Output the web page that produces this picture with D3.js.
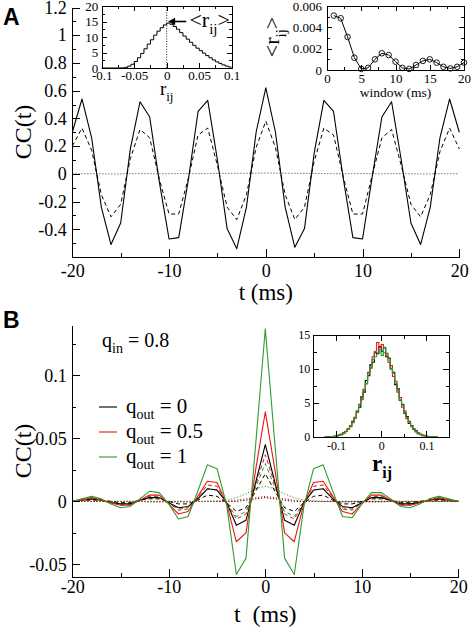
<!DOCTYPE html>
<html><head><meta charset="utf-8">
<script src="https://cdn.jsdelivr.net/npm/d3@7"></script>
<style>
body{margin:0;background:#fff;}
svg{display:block;}
.axis path,.axis line{stroke:#000;stroke-width:1;shape-rendering:crispEdges;}
</style></head><body>
<svg id="c" width="472" height="630"></svg>
<script>
// ---------------- DATA ----------------
const lags = [-20,-19,-18,-17,-16,-15,-14,-13,-12,-11,-10,-9,-8,-7,-6,-5,-4,-3,-2,-1,0,1,2,3,4,5,6,7,8,9,10,11,12,13,14,15,16,17,18,19,20];

// Panel A main
const ccA_solid = [0.30,0.54,0.26,-0.24,-0.51,-0.355,0.18,0.52,0.41,-0.06,-0.47,-0.46,-0.04,0.45,0.53,0.10,-0.395,-0.54,-0.24,0.30,0.62,0.30,-0.24,-0.53,-0.395,0.15,0.53,0.45,-0.03,-0.46,-0.47,-0.02,0.41,0.52,0.10,-0.355,-0.51,-0.24,0.26,0.54,0.30];
const ccA_dash  = [0.20,0.33,0.17,-0.15,-0.31,-0.22,0.11,0.32,0.26,-0.04,-0.29,-0.29,-0.03,0.28,0.33,0.06,-0.24,-0.33,-0.15,0.19,0.38,0.19,-0.15,-0.33,-0.24,0.09,0.33,0.28,-0.02,-0.29,-0.29,-0.01,0.26,0.32,0.06,-0.22,-0.31,-0.15,0.16,0.33,0.18];
const ccA_dot   = [0.001,0.000,0.001,0.000,-0.001,0.000,0.001,0.002,0.001,0.000,0.001,0.002,0.002,0.001,0.002,0.003,0.003,0.004,0.004,0.005,0.006,0.005,0.004,0.004,0.003,0.002,0.002,0.001,0.000,0.001,0.002,0.001,0.000,0.001,0.001,0.000,-0.001,0.000,0.001,0.000,0.001];

// Panel A inset 1: histogram of r_ij (bin starts, width 0.005)
const histA_bins = [-0.1,-0.095,-0.09,-0.085,-0.08,-0.075,-0.07,-0.065,-0.06,-0.055,-0.05,-0.045,-0.04,-0.035,-0.03,-0.025,-0.02,-0.015,-0.01,-0.005,0,0.005,0.01,0.015,0.02,0.025,0.03,0.035,0.04,0.045,0.05,0.055,0.06,0.065,0.07,0.075,0.08,0.085,0.09,0.095];
const histA_vals = [0,0,0,0,0,0,0.05,0.2,0.6,1.2,2.1,3.3,4.7,6.2,7.7,9.1,10.6,11.9,13.0,13.9,14.5,14.1,13.4,12.5,11.4,10.3,9.3,8.3,7.3,6.4,5.6,4.8,4.0,3.3,2.6,2.0,1.5,1.0,0.6,0.3];

// Panel A inset 2: <r_ij> vs window
const windows = [1,2,3,4,5,6,7,8,9,10,11,12,13,14,15,16,17,18,19,20];
const meanR   = [0.0051,0.00485,0.0031,0.00115,0.0001,0.0002,0.001,0.00157,0.0014,0.00078,0.0002,0.0001,0.00047,0.00085,0.001,0.00069,0.0003,0.00015,0.0003,0.0007];

// Panel B main
const ccB_k_solid = [0.000,0.001,0.002,0.001,-0.001,-0.002,-0.002,0.001,0.003,0.003,-0.001,-0.005,-0.004,0.002,0.010,0.009,-0.001,-0.019,-0.015,0.015,0.045,0.015,-0.015,-0.019,-0.001,0.009,0.010,0.002,-0.004,-0.005,-0.001,0.003,0.003,0.001,-0.002,-0.002,-0.001,0.001,0.002,0.001,0.000];
const ccB_r_solid = [0.000,0.001,0.003,0.001,-0.001,-0.003,-0.003,0.001,0.005,0.005,-0.002,-0.010,-0.008,0.004,0.016,0.015,-0.002,-0.032,-0.025,0.025,0.071,0.025,-0.025,-0.032,-0.002,0.015,0.016,0.004,-0.008,-0.010,-0.002,0.005,0.005,0.001,-0.003,-0.003,-0.001,0.001,0.003,0.001,0.000];
const ccB_g_solid = [0.000,0.002,0.004,0.002,-0.002,-0.005,-0.004,0.002,0.008,0.007,-0.002,-0.014,-0.012,0.008,0.029,0.026,-0.003,-0.058,-0.045,0.045,0.137,0.045,-0.045,-0.058,-0.004,0.026,0.029,0.008,-0.012,-0.013,-0.002,0.007,0.007,0.002,-0.004,-0.005,-0.002,0.002,0.004,0.002,0.000];
const ccB_k_dash  = [0.000,0.001,0.001,0.001,0.000,-0.001,-0.001,0.001,0.002,0.002,0.000,-0.002,-0.002,0.001,0.005,0.004,-0.001,-0.008,-0.005,0.008,0.022,0.008,-0.005,-0.008,-0.001,0.004,0.005,0.001,-0.002,-0.002,0.000,0.002,0.002,0.001,-0.001,-0.001,0.000,0.001,0.001,0.001,0.000];
const ccB_r_dash  = [0.000,0.001,0.002,0.001,-0.001,-0.003,-0.002,0.001,0.004,0.004,-0.001,-0.007,-0.006,0.003,0.013,0.012,-0.001,-0.014,-0.010,0.013,0.037,0.013,-0.010,-0.014,-0.001,0.012,0.013,0.003,-0.006,-0.007,-0.001,0.004,0.004,0.001,-0.002,-0.003,-0.001,0.001,0.002,0.001,0.000];
const ccB_g_dash  = [0.000,0.001,0.002,0.001,-0.001,-0.002,-0.002,0.001,0.004,0.003,-0.001,-0.006,-0.005,0.002,0.010,0.009,-0.001,-0.012,-0.008,0.011,0.030,0.011,-0.008,-0.012,-0.001,0.009,0.010,0.002,-0.005,-0.006,-0.001,0.003,0.004,0.001,-0.002,-0.002,-0.001,0.001,0.002,0.001,0.000];
const ccB_k_dot   = [0,0,0,0,0,0,0,0,0,0,0,0,0,0,0,0,0,0,0.001,0.002,0.003,0.002,0.001,0,0,0,0,0,0,0,0,0,0,0,0,0,0,0,0,0,0];
const ccB_r_dot   = [0,0,0,0,0,0,0,0,-0.0005,-0.0005,-0.0005,-0.0005,-0.0005,0,0,0,0,0.001,0.002,0.003,0.004,0.003,0.002,0.001,0,0,0,0,-0.0005,-0.0005,-0.0005,-0.0005,-0.0005,0,0,0,0,0,0,0,0];
const ccB_g_dot   = [0,0,0,0,0,0,0,0,0,0,0,0,0,0,0,0.0005,0.001,0.003,0.006,0.010,0.012,0.010,0.006,0.003,0.001,0.0005,0,0,0,0,0,0,0,0,0,0,0,0,0,0,0];

// Panel B inset: histograms (bin starts, width 0.005)
const histB_bins = [-0.125,-0.12,-0.115,-0.11,-0.105,-0.1,-0.095,-0.09,-0.085,-0.08,-0.075,-0.07,-0.065,-0.06,-0.055,-0.05,-0.045,-0.04,-0.035,-0.03,-0.025,-0.02,-0.015,-0.01,-0.005,0,0.005,0.01,0.015,0.02,0.025,0.03,0.035,0.04,0.045,0.05,0.055,0.06,0.065,0.07,0.075,0.08,0.085,0.09,0.095,0.1,0.105,0.11,0.115,0.12];
const histB_k = [0,0.02,0.03,0.08,0.12,0.15,0.3,0.35,0.6,0.8,1.2,1.5,2.3,2.8,3.8,4.4,5.9,6.6,8.3,9.0,10.6,11.0,12.4,12.3,13.3,12.6,13.1,11.8,11.6,10.0,9.5,7.7,7.1,5.4,4.8,3.5,3.0,2.0,1.7,1.1,0.9,0.5,0.4,0.2,0.2,0.08,0.07,0.03,0.02,0];
const histB_r = [0,0.01,0.05,0.05,0.1,0.2,0.22,0.42,0.55,0.85,1.1,1.7,2.1,2.9,3.6,4.8,5.5,7.0,7.8,9.5,10.1,11.8,12.6,13.9,13.2,13.6,12.4,12.3,11.0,10.5,8.9,8.2,6.6,5.8,4.4,3.8,2.7,2.3,1.5,1.2,0.75,0.6,0.35,0.28,0.15,0.1,0.05,0.04,0.01,0.01];
const histB_g = [0.01,0.03,0.04,0.07,0.09,0.18,0.25,0.4,0.6,0.78,1.2,1.55,2.2,2.8,3.7,4.7,5.6,6.9,7.9,9.3,10.2,11.4,11.8,12.2,12.5,12.0,13.2,12.0,11.5,10.1,9.4,7.9,6.9,5.5,4.7,3.6,2.9,2.1,1.6,1.2,0.8,0.6,0.4,0.25,0.18,0.1,0.06,0.03,0.03,0.01];

// ticks & labels
const tMajor = [-20,-10,0,10,20], tMinor = [-15,-5,5,15];
const yA_major = [-0.4,-0.2,0,0.2,0.4,0.6,0.8,1,1.2];
const yA_minor = [-0.5,-0.3,-0.1,0.1,0.3,0.5,0.7,0.9,1.1];
const yB_major = [-0.05,0,0.05,0.1];
const yB_minor = [-0.025,0.025,0.075,0.125];
const legendLabels = ["0","0.5","1"];
const colK = "#000000", colR = "#e8170f", colG = "#2f9a2f";

// ---------------- DRAW ----------------
const SERIF = "'Liberation Serif','Times New Roman','DejaVu Serif',serif";
const SANS = "'Liberation Sans',Arial,sans-serif";
const svg = d3.select("#c");
const fmt = d => String(+(+d).toFixed(4));

function axisSet(g, xs, ys, o){
  const [x0,x1] = xs.range(), [y0,y1] = ys.range();
  const mk = ax => g.append("g").attr("class","axis").call(ax);
  let a = mk(d3.axisBottom(xs).tickValues(o.xMaj).tickSize(-o.len).tickSizeOuter(0).tickPadding(o.xpad).tickFormat(o.xfmt||fmt));
  a.attr("transform",`translate(0,${y0})`);
  a.selectAll("text").attr("font-size",o.font);
  a = mk(d3.axisBottom(xs).tickValues(o.xMin).tickSize(-o.mlen).tickSizeOuter(0).tickFormat(""));
  a.attr("transform",`translate(0,${y0})`); a.select(".domain").remove();
  a = mk(d3.axisLeft(ys).tickValues(o.yMaj).tickSize(-o.len).tickSizeOuter(0).tickPadding(o.ypad).tickFormat(o.yfmt||fmt));
  a.attr("transform",`translate(${x0},0)`);
  a.selectAll("text").attr("font-size",o.font);
  a = mk(d3.axisLeft(ys).tickValues(o.yMin).tickSize(-o.mlen).tickSizeOuter(0).tickFormat(""));
  a.attr("transform",`translate(${x0},0)`); a.select(".domain").remove();
  if(o.box){
    a = mk(d3.axisTop(xs).tickValues(o.xMaj).tickSize(-o.len).tickSizeOuter(0).tickFormat(""));
    a.attr("transform",`translate(0,${y1})`);
    a = mk(d3.axisTop(xs).tickValues(o.xMin).tickSize(-o.mlen).tickSizeOuter(0).tickFormat(""));
    a.attr("transform",`translate(0,${y1})`); a.select(".domain").remove();
    a = mk(d3.axisRight(ys).tickValues(o.yMaj).tickSize(-o.len).tickSizeOuter(0).tickFormat(""));
    a.attr("transform",`translate(${x1},0)`);
    a = mk(d3.axisRight(ys).tickValues(o.yMin).tickSize(-o.mlen).tickSizeOuter(0).tickFormat(""));
    a.attr("transform",`translate(${x1},0)`); a.select(".domain").remove();
  }
  g.selectAll(".domain").attr("fill","none");
}

function rich(g, x, y, parts, size, anchor, rot){
  const t = g.append("text").attr("x",x).attr("y",y).attr("font-size",size).attr("text-anchor",anchor||"start");
  if(rot) t.attr("transform",`rotate(${rot} ${x} ${y})`);
  let cur = 0;
  parts.forEach(p=>{
    const shift = p[1] ? Math.round(size*0.3) : 0;
    const sp = t.append("tspan").text(p[0]).attr("dy", shift-cur);
    cur = shift;
    if(p[1]) sp.attr("font-size", Math.round(size*0.68));
  });
  return t;
}

function series(g, xs, ys, xv, yv, color, style, w){
  const line = d3.line().x((d,i)=>xs(xv[i])).y(d=>ys(d));
  const p = g.append("path").datum(yv).attr("d",line).attr("fill","none")
    .attr("stroke",color).attr("stroke-width",w||1.1).attr("stroke-linejoin","round");
  if(style==="dash") p.attr("stroke-dasharray","4,3");
  if(style==="dot") p.attr("stroke-dasharray","1.2,1.8");
  return p;
}

function stepHist(g, xs, ys, bins, vals, width, color, w){
  const pts = bins.map((b,i)=>[b, vals[i]]);
  pts.push([bins[bins.length-1]+width, vals[vals.length-1]]);
  const line = d3.line().x(d=>xs(d[0])).y(d=>ys(d[1])).curve(d3.curveStepAfter);
  g.append("path").datum(pts).attr("d",line).attr("fill","none").attr("stroke",color).attr("stroke-width",w||1);
}

// ===== Panel A =====
const gA = svg.append("g");
const xA = d3.scaleLinear().domain([-20,20]).range([72.3,459.3]);
const yA = d3.scaleLinear().domain([-0.6,1.2]).range([257,7.5]);
series(gA,xA,yA,lags,ccA_dot,"#555","dot",1);
series(gA,xA,yA,lags,ccA_dash,"#000","dash",1);
series(gA,xA,yA,lags,ccA_solid,"#000","solid",1.1);
axisSet(gA,xA,yA,{xMaj:tMajor,xMin:tMinor,yMaj:yA_major,yMin:yA_minor,len:8,mlen:4,font:18,xpad:7,ypad:5.5});
rich(gA,31,132,[["CC(t)"]],24,"middle",-90);
gA.append("text").attr("x",265.8).attr("y",300).attr("font-size",23).attr("text-anchor","middle").text("t (ms)");
gA.append("text").attr("class","sans").attr("x",3).attr("y",25).attr("font-size",23).attr("font-weight","bold").text("A");

// Inset A1
const gA1 = svg.append("g");
const xA1 = d3.scaleLinear().domain([-0.1,0.1]).range([101.7,231.7]);
const yA1 = d3.scaleLinear().domain([0,20]).range([68,6]);
gA1.append("rect").attr("x",101.7).attr("y",6).attr("width",130).attr("height",62).attr("fill","#fff");
gA1.append("line").attr("x1",xA1(0)).attr("x2",xA1(0)).attr("y1",yA1(0)).attr("y2",yA1(20))
  .attr("stroke","#000").attr("stroke-width",0.9).attr("stroke-dasharray","1,1.6");
stepHist(gA1,xA1,yA1,histA_bins,histA_vals,0.005,"#000",1);
axisSet(gA1,xA1,yA1,{xMaj:[-0.1,-0.05,0,0.05,0.1],xMin:[-0.075,-0.025,0.025,0.075],yMaj:[0,5,10,15,20],yMin:[2.5,7.5,12.5,17.5],len:5,mlen:3,font:13,xpad:3,ypad:3.5,box:true});
rich(gA1,xA1(0),95,[["r"],["ij",true]],19,"middle");
const ay = yA1(15);
gA1.append("line").attr("x1",xA1(0.03)).attr("x2",xA1(0.008)).attr("y1",ay).attr("y2",ay).attr("stroke","#000").attr("stroke-width",1.6);
gA1.append("path").attr("d",`M${xA1(0.002)},${ay} L${xA1(0.013)},${ay-3.8} L${xA1(0.013)},${ay+3.8} Z`).attr("fill","#000");
rich(gA1,xA1(0.035),27,[["<r"],["ij",true],[">"]],22,"start");

// Inset A2
const gA2 = svg.append("g");
const xA2 = d3.scaleLinear().domain([0,20]).range([327,464]);
const yA2 = d3.scaleLinear().domain([0,0.006]).range([70,6]);
gA2.append("rect").attr("x",327).attr("y",6).attr("width",137).attr("height",64).attr("fill","#fff");
series(gA2,xA2,yA2,windows,meanR,"#000","solid",1);
gA2.selectAll("circle.pt").data(meanR).join("circle").attr("class","pt")
  .attr("cx",(d,i)=>xA2(windows[i])).attr("cy",d=>yA2(d)).attr("r",2.8)
  .attr("fill","none").attr("stroke","#000").attr("stroke-width",0.9);
axisSet(gA2,xA2,yA2,{xMaj:[0,5,10,15,20],xMin:[2.5,7.5,12.5,17.5],yMaj:[0,0.002,0.004,0.006],yMin:[0.001,0.003,0.005],len:5,mlen:3,font:13,xpad:4,ypad:5,box:true});
gA2.append("text").attr("x",xA2(10)).attr("y",97).attr("font-size",13.5).attr("text-anchor","middle").text("window (ms)");
rich(gA2,279,37,[["<r"],["ij",true],[">"]],22,"middle",-90);

// ===== Panel B =====
const gB = svg.append("g");
const xB = d3.scaleLinear().domain([-20,20]).range([72.3,458.3]);
const yB = d3.scaleLinear().domain([-0.06,0.14]).range([577,325]);
const dB = gB.append("g");
series(dB,xB,yB,lags,ccB_k_dot,colK,"dot",1);
series(dB,xB,yB,lags,ccB_r_dot,colR,"dot",1);
series(dB,xB,yB,lags,ccB_g_dot,colG,"dot",1);
series(dB,xB,yB,lags,ccB_k_dash,colK,"dash",1);
series(dB,xB,yB,lags,ccB_r_dash,colR,"dash",1);
series(dB,xB,yB,lags,ccB_g_dash,colG,"dash",1);
series(dB,xB,yB,lags,ccB_k_solid,colK,"solid",1.1);
series(dB,xB,yB,lags,ccB_r_solid,colR,"solid",1.1);
series(dB,xB,yB,lags,ccB_g_solid,colG,"solid",1.1);
axisSet(gB,xB,yB,{xMaj:tMajor,xMin:tMinor,yMaj:yB_major,yMin:yB_minor,len:8,mlen:4,font:18,xpad:3,ypad:5.5});
rich(gB,31,451,[["CC(t)"]],24,"middle",-90);
gB.append("text").attr("x",265.3).attr("y",622).attr("font-size",24).attr("text-anchor","middle").text("t\u00a0 (ms)");
gB.append("text").attr("class","sans").attr("x",3).attr("y",328).attr("font-size",23).attr("font-weight","bold").text("B");
rich(gB,102,347,[["q"],["in",true],[" = 0.8"]],20,"start");
const legCols = [colK,colR,colG];
legendLabels.forEach((lab,i)=>{
  const yy = 407 + i*25;
  gB.append("line").attr("x1",99).attr("x2",117).attr("y1",yy).attr("y2",yy).attr("stroke",legCols[i]).attr("stroke-width",1.1);
  rich(gB,126,yy+6,[["q"],["out",true],[" = "+lab]],21,"start");
});

// Inset B
const gB1 = svg.append("g");
const xB1 = d3.scaleLinear().domain([-0.15,0.15]).range([313.3,449]);
const yB1 = d3.scaleLinear().domain([0,15]).range([437,335]);
gB1.append("rect").attr("x",313.3).attr("y",335).attr("width",135.7).attr("height",102).attr("fill","#fff");
stepHist(gB1,xB1,yB1,histB_bins,histB_k,0.005,colK,1.1);
stepHist(gB1,xB1,yB1,histB_bins,histB_r,0.005,colR,1.1);
stepHist(gB1,xB1,yB1,histB_bins,histB_g,0.005,colG,1.1);
axisSet(gB1,xB1,yB1,{xMaj:[-0.1,0,0.1],xMin:[-0.05,0.05],yMaj:[0,5,10,15],yMin:[2.5,7.5,12.5],len:6,mlen:3.5,font:12,xpad:4,ypad:3,box:true});
rich(gB1,372,471,[["r"],["ij",true]],23,"start").attr("font-weight","bold");

// fonts: serif everywhere except panel letters
svg.selectAll("g").attr("font-family",null);
svg.selectAll("text").style("font-family",SERIF).style("fill","#000");
svg.selectAll("text.sans").style("font-family",SANS);
</script>
</body></html>
